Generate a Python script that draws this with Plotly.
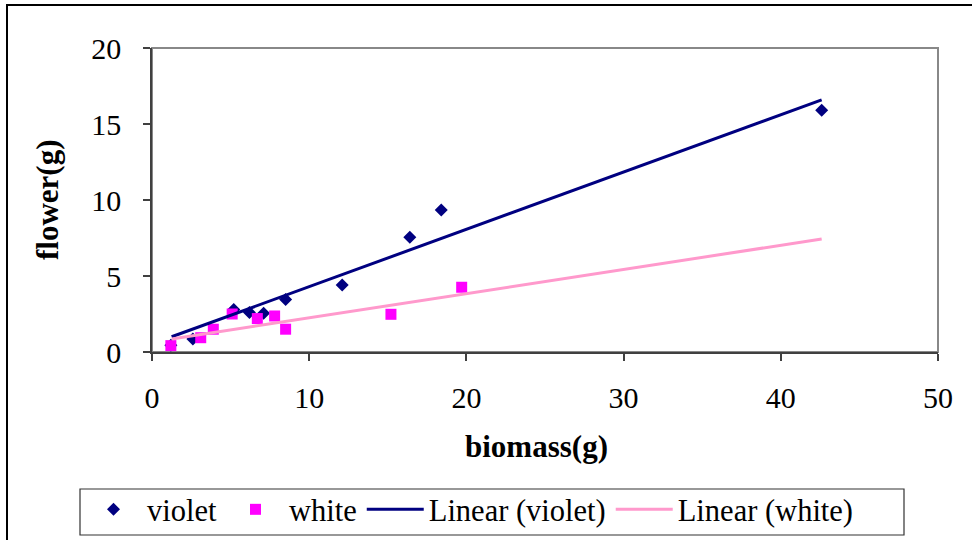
import plotly.graph_objects as go

# data
violet_x = [1.2, 2.6, 5.2, 6.2, 7.1, 8.5, 12.1, 16.4, 18.4, 42.6]
violet_y = [0.45, 0.85, 2.8, 2.6, 2.55, 3.45, 4.4, 7.55, 9.35, 15.9]
white_x = [1.2, 3.1, 3.9, 5.1, 6.7, 7.8, 8.5, 15.2, 19.7]
white_y = [0.42, 0.94, 1.5, 2.5, 2.2, 2.37, 1.5, 2.48, 4.26]
trend_x = [1.25, 42.6]
violet_fit = (0.377, 0.53)   # slope, intercept
white_fit = (0.159, 0.66)
x_ticks = [0, 10, 20, 30, 40, 50]
y_ticks = [0, 5, 10, 15, 20]

FONT = "Liberation Serif"
L, R, T, B = 152, 34, 48, 188
W, H = 972, 540
pw, ph = W - L - R, H - T - B


def px(x):
    return (x - L) / pw


def py(y):
    return (H - B - y) / ph


fig = go.Figure()
fig.add_trace(go.Scatter(x=violet_x, y=violet_y, mode="markers", name="violet",
                         marker=dict(symbol="diamond", size=10, color="#000080")))
fig.add_trace(go.Scatter(x=white_x, y=white_y, mode="markers", name="white",
                         marker=dict(symbol="square", size=11, color="#FF00FF")))
fig.add_trace(go.Scatter(x=trend_x, y=[violet_fit[0] * v + violet_fit[1] for v in trend_x],
                         mode="lines", name="Linear (violet)",
                         line=dict(color="#000080", width=3)))
fig.add_trace(go.Scatter(x=trend_x, y=[white_fit[0] * v + white_fit[1] for v in trend_x],
                         mode="lines", name="Linear (white)",
                         line=dict(color="#FF99CC", width=3)))

axis_common = dict(showgrid=False, zeroline=False, showline=True, linecolor="#404040",
                   linewidth=1.5, ticks="outside", ticklen=7, tickcolor="#404040",
                   tickwidth=1.5, tickfont=dict(family=FONT, size=30, color="black"),
                   automargin=False)
fig.update_xaxes(range=[0, 50], tickvals=x_ticks, ticklabelstandoff=11, **axis_common)
fig.update_yaxes(range=[0, 20], tickvals=y_ticks, ticklabelstandoff=16, **axis_common)

# plot-area border
fig.add_shape(type="rect", xref="paper", yref="paper", x0=0, x1=1, y0=0, y1=1,
              line=dict(color="#888888", width=2), layer="below")
# chart-area frame
fig.add_shape(type="rect", xref="paper", yref="paper", x0=px(7), x1=px(990),
              y0=py(560), y1=py(5), line=dict(color="black", width=2))
# legend frame
fig.add_shape(type="rect", xref="paper", yref="paper", x0=px(80), x1=px(904),
              y0=py(535), y1=py(489), line=dict(color="#333333", width=1.2))

fig.add_annotation(text="<b>biomass(g)</b>", xref="paper", yref="paper",
                   x=px(536), y=py(446), showarrow=False, xanchor="center", yanchor="middle",
                   font=dict(family=FONT, size=31, color="black"))
fig.add_annotation(text="<b>flower(g)</b>", xref="paper", yref="paper",
                   x=px(47), y=py(200), showarrow=False, textangle=-90,
                   xanchor="center", yanchor="middle",
                   font=dict(family=FONT, size=31, color="black"))

fig.update_layout(
    width=W, height=H,
    margin=dict(l=L, r=R, t=T, b=B, autoexpand=False),
    plot_bgcolor="white", paper_bgcolor="white",
    font=dict(family=FONT, size=30, color="black"),
    legend=dict(orientation="h", xref="container", yref="container",
                x=80 / W, y=(H - 483) / H, xanchor="left", yanchor="top",
                borderwidth=0, bgcolor="rgba(0,0,0,0)",
                font=dict(family=FONT, size=30.5, color="black"), itemwidth=57),
)

fig.write_html("out.html")
